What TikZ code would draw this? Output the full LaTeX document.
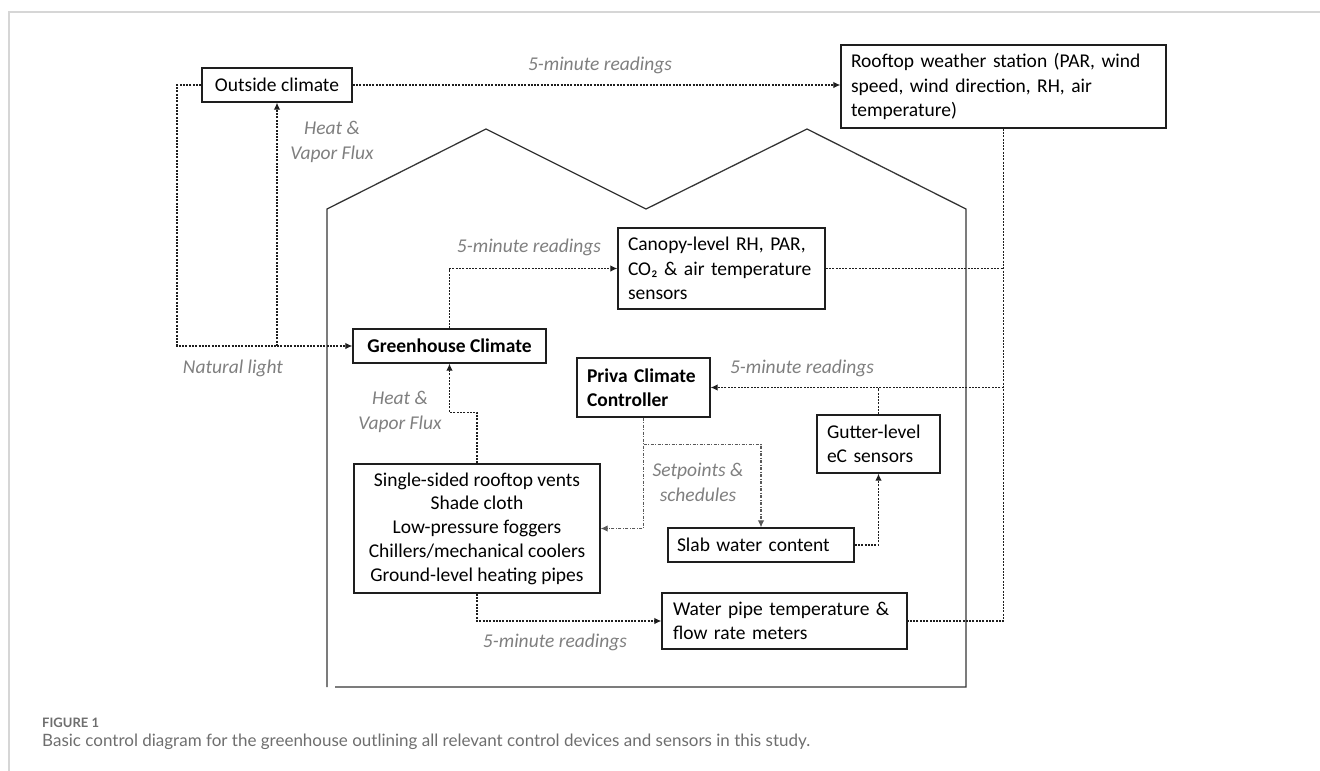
\documentclass[tikz,border=0pt]{standalone}
\usepackage{fontspec}
\setmainfont{Carlito}
\newfontfamily\capfont{Lato}
\usetikzlibrary{arrows.meta,calc}
\definecolor{lab}{HTML}{7F7F7F}
\definecolor{ink}{HTML}{1E1E1E}
\definecolor{frame}{HTML}{D6D6D6}
\definecolor{capgray}{HTML}{6E6E6E}
\tikzset{
  box/.style={draw=ink, line width=1.3pt, inner sep=0pt, text=black,
    font=\fontsize{19.5}{24.5}\selectfont},
  lbox/.style={box, align=left},
  cbox/.style={box, align=center},
  conn/.style={draw=ink, line width=1.1pt, dash pattern=on 2pt off 1.3pt},
  dd/.style={draw=black!65, line width=1.1pt, dash pattern=on 3pt off 1.5pt on 1pt off 1.5pt},
  arr/.style={-{Latex[length=7pt,width=6.5pt]}},
  lbl/.style={text=lab, inner sep=0pt, align=center,
    font=\fontsize{19.5}{25}\selectfont\itshape},
  house/.style={draw=ink!90, line width=1.3pt, line join=miter},
}
\begin{document}
\begin{tikzpicture}[x=1pt,y=-1pt]
\useasboundingbox (0,0) rectangle (1320,771);
% page frame
\draw[frame, line width=1.6pt] (9,771) -- (9,12) -- (1320,12);

% greenhouse outline
\draw[house] (335,687) -- (966,687) -- (966,209) -- (807,129) -- (646,209)
  -- (486,129) -- (327,209) -- (327,687);

% boxes
\node[cbox, minimum width=150pt, minimum height=34pt] (oc) at (277,85) {Outside climate};
\node[lbox, minimum width=325pt, text width=305pt, minimum height=83pt] (ws) at (1003.5,86.5)
  {Rooftop weather station (PAR, wind\\speed, wind direction, RH, air\\temperature)};
\node[cbox, minimum width=193pt, minimum height=34pt] (gc) at (449.5,346) {\bfseries Greenhouse Climate};
\node[lbox, minimum width=207pt, text width=187pt, minimum height=81pt] (cs) at (721.5,268.5)
  {Canopy-level RH, PAR,\\CO₂ \& air temperature\\sensors};
\node[lbox, minimum width=133pt, text width=113pt, minimum height=59pt] (pc) at (643.5,387.5)
  {\bfseries Priva Climate\\\bfseries Controller};
\node[lbox, minimum width=123pt, text width=103pt, minimum height=58pt] (gs) at (878.5,444)
  {Gutter-level\\eC sensors};
\node[cbox, minimum width=246pt, minimum height=129pt, font=\fontsize{19.5}{23.8}\selectfont] (cd) at (477,528.5)
  {Single-sided rooftop vents\\Shade cloth\\Low-pressure foggers\\Chillers/mechanical coolers\\Ground-level heating pipes};
\node[lbox, minimum width=186pt, text width=168pt, minimum height=34pt] (sw) at (761,545)
  {Slab water content};
\node[lbox, minimum width=245pt, text width=223pt, minimum height=56pt] (wp) at (784.5,621)
  {Water pipe temperature \&\\flow rate meters};

% connectors
\draw[conn] (oc.west) -| (177,346) -- (oc.south |- gc.west);
\draw[conn,arr] (oc.south |- gc.west) -- (gc.west);
\draw[conn,arr] (oc.south |- gc.west) -- (oc.south);
\draw[conn,arr] (oc.east) -- (oc.east -| ws.west);
\draw[conn,arr] (gc.north) |- (cs.west);
\draw[conn] (ws.south) |- (wp.east);
\draw[conn] (cs.east) -- (cs.east -| ws.south);
\draw[conn,arr] (ws.south |- pc.east) -- (pc.east);
\draw[conn] (gs.north) -- (gs.north |- pc.east);
\draw[conn,arr] (sw.east) -| (gs.south);
\coordinate (sp) at ($(pc.south)+(0,27)$);
\draw[dd,arr] (pc.south) |- (cd.east);
\draw[dd,arr] (sp) -| (sw.north);
\draw[conn,arr] (cd.north) -- ++(0,-51) -| (gc.south);
\draw[conn,arr] (cd.south) |- (wp.west);

% labels
\node[lbl] (l1) at (600,65) {5-minute readings};
\node[lbl] (l2) at (332,142) {Heat \&\\Vapor Flux};
\node[lbl] (l3) at (233,368) {Natural light};
\node[lbl] (l4) at (529,247) {5-minute readings};
\node[lbl] (l5) at (400,412) {Heat \&\\Vapor Flux};
\node[lbl] (l6) at (802,368) {5-minute readings};
\node[lbl] (l7) at (698,482) {Setpoints \&\\schedules};
\node[lbl] (l8) at (555,642) {5-minute readings};

% caption
\node[anchor=west, inner sep=0pt, text=capgray, font=\capfont\bfseries\fontsize{13}{15}\selectfont] (fig) at (42,723) {FIGURE 1};
\node[anchor=west, inner sep=0pt, text=capgray, font=\capfont\fontsize{17}{20}\selectfont] (cap) at (42,742)
  {Basic control diagram for the greenhouse outlining all relevant control devices and sensors in this study.};
\end{tikzpicture}
\end{document}
